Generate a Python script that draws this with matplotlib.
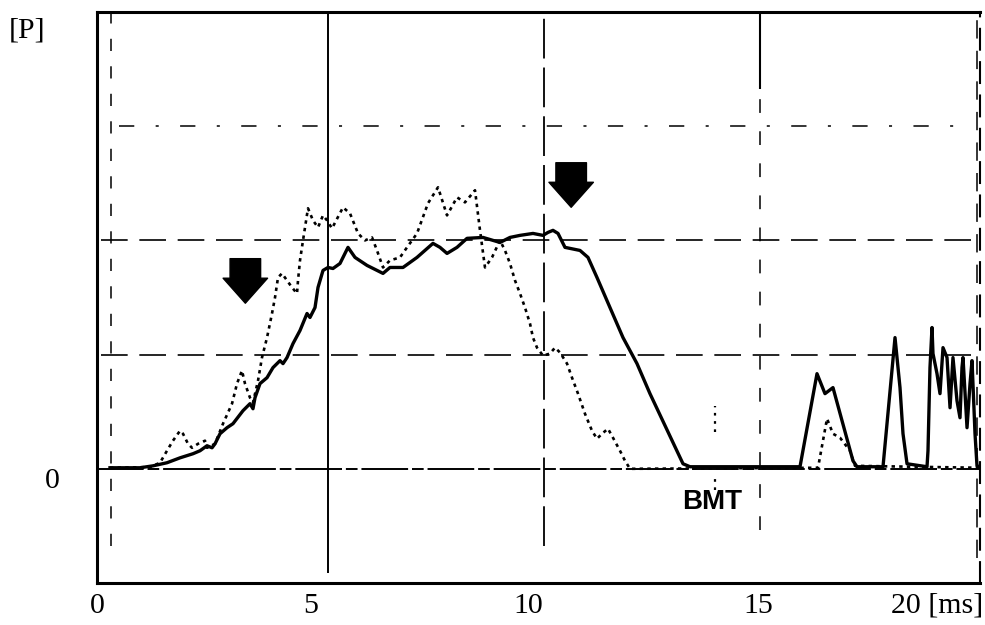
import matplotlib
matplotlib.use("Agg")
import matplotlib.pyplot as plt
from matplotlib.transforms import ScaledTranslation

# ---------------- data (time in ms, amplitude in grid divisions) ----------------
solid_t = [0.294, 0.974, 1.268, 1.585, 1.880, 2.174, 2.333, 2.492, 2.605, 2.673,
           2.786, 2.945, 3.080, 3.307, 3.465, 3.533, 3.579, 3.692, 3.851, 3.986,
           4.145, 4.213, 4.304, 4.439, 4.598, 4.757, 4.824, 4.938, 5.006, 5.119,
           5.232, 5.345, 5.504, 5.685, 5.844, 6.116, 6.478, 6.636, 6.931, 7.248,
           7.610, 7.769, 7.928, 8.154, 8.381, 8.743, 9.128, 9.354, 9.581, 9.875,
           10.102, 10.215, 10.328, 10.442, 10.600, 10.714, 10.940, 11.121, 11.325, 11.619,
           11.914, 12.231, 12.525, 13.273, 13.432, 15.923, 16.308, 16.489, 16.670, 17.123,
           17.214, 17.803, 18.075, 18.188, 18.256, 18.347, 18.800, 18.822, 18.867, 18.913,
           18.935, 19.026, 19.094, 19.162, 19.253, 19.321, 19.388, 19.479, 19.547, 19.592,
           19.615, 19.706, 19.774, 19.819, 19.887, 19.932, 20.0]
solid_p = [0.009, 0.009, 0.026, 0.053, 0.096, 0.132, 0.158, 0.202, 0.184, 0.219,
           0.307, 0.360, 0.395, 0.509, 0.570, 0.526, 0.623, 0.746, 0.798, 0.886,
           0.947, 0.921, 0.974, 1.096, 1.211, 1.360, 1.325, 1.412, 1.588, 1.737,
           1.763, 1.754, 1.798, 1.939, 1.851, 1.781, 1.711, 1.763, 1.763, 1.851,
           1.974, 1.939, 1.886, 1.939, 2.018, 2.026, 1.982, 2.026, 2.044, 2.061,
           2.044, 2.070, 2.088, 2.061, 1.939, 1.930, 1.912, 1.851, 1.675, 1.412,
           1.149, 0.921, 0.658, 0.044, 0.018, 0.018, 0.833, 0.658, 0.711, 0.070,
           0.018, 0.018, 1.149, 0.711, 0.307, 0.044, 0.018, 0.158, 0.886, 1.237,
           1.009, 0.833, 0.658, 1.061, 0.974, 0.535, 0.974, 0.596, 0.447, 0.886,
           0.974, 0.360, 0.746, 0.947, 0.307, 0.026, 0.018]

dotted_t = [0.294, 1.20, 1.427, 1.585, 1.721, 1.880, 1.948, 2.061, 2.152, 2.288,
            2.446, 2.492, 2.673, 2.854, 3.058, 3.171, 3.284, 3.352, 3.465, 3.533,
            3.647, 3.737, 3.851, 3.964, 4.032, 4.100, 4.190, 4.304, 4.417, 4.530,
            4.553, 4.598, 4.666, 4.779, 4.892, 5.006, 5.119, 5.210, 5.323, 5.572,
            5.730, 5.912, 6.070, 6.229, 6.342, 6.478, 6.636, 6.863, 7.022, 7.248,
            7.497, 7.724, 7.928, 8.154, 8.335, 8.562, 8.675, 8.788, 8.947, 9.128,
            9.241, 9.354, 9.468, 9.581, 9.694, 9.807, 9.875, 9.966, 10.102, 10.260,
            10.374, 10.487, 10.646, 10.759, 10.895, 11.053, 11.212, 11.325, 11.438, 11.574,
            11.687, 11.846, 11.959, 12.073, 16.331, 16.535, 16.670, 16.829, 17.055, 17.169,
            20.0]
dotted_p = [0.009, 0.015, 0.053, 0.158, 0.246, 0.333, 0.307, 0.219, 0.184, 0.219,
            0.246, 0.184, 0.219, 0.395, 0.570, 0.746, 0.860, 0.746, 0.623, 0.579,
            0.772, 0.974, 1.149, 1.360, 1.500, 1.675, 1.711, 1.649, 1.588, 1.535,
            1.649, 1.825, 2.000, 2.281, 2.175, 2.114, 2.219, 2.175, 2.105, 2.289,
            2.237, 2.061, 2.000, 2.026, 1.912, 1.763, 1.825, 1.851, 1.939, 2.061,
            2.325, 2.465, 2.219, 2.377, 2.333, 2.439, 2.088, 1.763, 1.851, 2.000,
            1.912, 1.798, 1.649, 1.535, 1.412, 1.272, 1.149, 1.061, 0.991, 1.009,
            1.061, 1.018, 0.921, 0.798, 0.658, 0.482, 0.333, 0.263, 0.307, 0.351,
            0.272, 0.158, 0.070, 0.000, 0.009, 0.439, 0.307, 0.272, 0.158, 0.026,
            0.009]

x_ticks = [0, 5, 10, 15, 20]
x_tick_labels = ["0", "5", "10", "15", "20 [ms]"]
y_ticks = [0]
y_tick_labels = ["0"]

arrow_t = [3.36, 10.74]
arrow_tip = [1.45, 2.29]
arrow_tail = [1.84, 2.68]

bmt_label = "BMT"
bmt_t = 13.93
bmt_marker_t = 14.0

# ---------------- figure ----------------
serif = ["Liberation Serif", "DejaVu Serif"]
fig = plt.figure(figsize=(9.85, 6.25), dpi=100)
ax = fig.add_axes([97 / 985, 42 / 625, 883 / 985, 571 / 625])
ax.set_xlim(0, 20)
ax.set_ylim(-1.0, 4.0)

# oscilloscope graticule
ax.axhline(0, color="black", lw=1.4, ls=(0, (24, 2, 6, 2)), zorder=1)
ax.hlines(1, 0.1, 19.9, color="black", lw=1.2, ls=(0, (16, 7)), zorder=1)
ax.hlines(2, 0.1, 19.9, color="black", lw=1.2, ls=(0, (16, 7)), zorder=1)
ax.hlines(3, 0.5, 19.4, color="black", lw=1.1, ls=(0, (10, 14, 2, 14)), zorder=1)
ax.vlines(0.32, -0.68, 4.0, color="black", lw=1.1, ls=(0, (8, 10)), zorder=1)
ax.vlines(5.23, -0.91, 4.0, color="black", lw=1.4, zorder=1)
ax.vlines(10.12, -0.68, 4.0, color="black", lw=1.3, ls=(0, (22, 5)), zorder=1)
ax.vlines(15.02, 3.33, 4.0, color="black", lw=1.5, zorder=1)
ax.vlines(15.02, -0.54, 3.33, color="black", lw=1.1, ls=(0, (9, 12)), zorder=1)
ax.vlines(19.93, -0.78, 4.0, color="black", lw=1.1, ls=(0, (12, 8)), zorder=1)

# traces
ax.plot(dotted_t, dotted_p, color="black", lw=1.9, ls=(0, (1.3, 1.6)), zorder=3)
ax.plot(solid_t, solid_p, color="black", lw=2.4, solid_joinstyle="round", zorder=4)

# BMT marker and label
ax.vlines(bmt_marker_t, 0.32, 0.55, color="black", lw=1.6, ls=(0, (1.2, 2.5)), zorder=3)
ax.vlines(bmt_marker_t, -0.19, -0.09, color="black", lw=1.6, ls=(0, (1.2, 2.5)), zorder=3)
ax.text(bmt_t, -0.29, bmt_label, ha="center", va="center", fontsize=20,
        fontweight="bold", family="Liberation Sans", zorder=5)

# arrows
for t, tip, tail in zip(arrow_t, arrow_tip, arrow_tail):
    ax.annotate("", xy=(t, tip), xytext=(t, tail),
                arrowprops=dict(arrowstyle="simple,head_length=18,head_width=32,tail_width=22",
                                mutation_scale=1, color="black", shrinkA=0, shrinkB=0),
                zorder=6)

# axes frame
for side in ["left", "bottom", "top"]:
    ax.spines[side].set_linewidth(2.2)
ax.spines["right"].set_linewidth(1.5)
ax.spines["right"].set_linestyle((0, (10, 6)))

ax.set_xticks(x_ticks)
ax.set_xticklabels(x_tick_labels)
ax.set_yticks(y_ticks)
ax.set_yticklabels(y_tick_labels)
ax.tick_params(axis="both", length=0, labelsize=21.5)
ax.tick_params(axis="x", pad=7)
ax.tick_params(axis="y", pad=27)
for lab in ax.get_xticklabels() + ax.get_yticklabels():
    lab.set_family(serif)

# hand-placed label offsets (pixels) as in the scanned original
x_label_shift = [0, -7, -10, -1, 3]
for lab, dx in zip(ax.get_xticklabels(), x_label_shift):
    lab.set_transform(lab.get_transform() + ScaledTranslation(dx / 100, 0, fig.dpi_scale_trans))
ax.get_xticklabels()[-1].set_ha("right")
ax.get_yticklabels()[0].set_transform(
    ax.get_yticklabels()[0].get_transform() + ScaledTranslation(0, -9 / 100, fig.dpi_scale_trans))

fig.text(27 / 985, 1 - 30 / 625, "[P]", ha="center", va="center", fontsize=21.5, family=serif)

fig.savefig("out.png", dpi=100)
